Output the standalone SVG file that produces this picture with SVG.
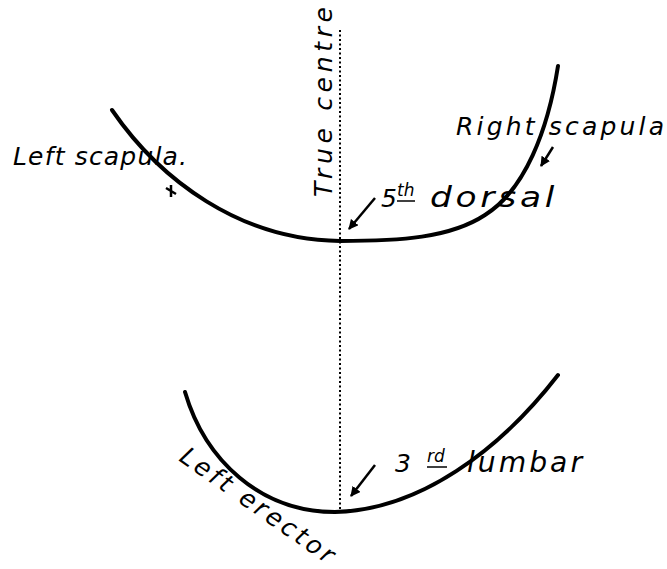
<svg xmlns="http://www.w3.org/2000/svg" width="667" height="569" viewBox="0 0 667 569">
<style>
.lbl{font-family:"DejaVu Sans","Liberation Sans",sans-serif;font-style:italic;font-size:25px;fill:#000}
.sup{font-size:17px}
.wide{font-size:28px;letter-spacing:3px}
.crv{fill:none;stroke:#000;stroke-width:4;stroke-linecap:round}
.arr{fill:none;stroke:#000;stroke-width:2.5}
.dot{fill:none;stroke:#000;stroke-width:2;stroke-dasharray:2 2.5}
</style>
<defs>
<marker id="ah" viewBox="0 0 10 10" refX="9" refY="5" markerWidth="4" markerHeight="4" orient="auto">
<path d="M0,0 L10,5 L0,10 z" fill="#000"/>
</marker>
</defs>
<rect width="667" height="569" fill="#fff"/>
<g id="connectors">
<path class="dot" d="M340,30 L340,510"/>
<path class="arr" marker-end="url(#ah)" d="M375,198 L349,229"/>
<path class="arr" marker-end="url(#ah)" d="M553,147 L541,166"/>
<path class="arr" marker-end="url(#ah)" d="M375,465 L351,496"/>
<path class="arr" d="M166,188 L176,194 M171,185 L171,197"/>
</g>
<g id="upper-curve">
<path class="crv" d="M112,110 C160,180 240,240 340,241 C400,241 450,238 485,215 C525,190 548,130 558,66"/>
</g>
<g id="lower-curve">
<path class="crv" d="M185,392 C205,460 260,512 335,512 C420,510 500,450 558,375"/>
</g>
<g id="true-centre">
<text class="lbl" transform="translate(332,197) rotate(-90)" font-size="26" textLength="190" lengthAdjust="spacing">True centre</text>
</g>
<g id="left-scapula">
<text class="lbl" x="13" y="165" textLength="174" lengthAdjust="spacing">Left scapula.</text>
</g>
<g id="right-scapula">
<text class="lbl" x="456" y="135" textLength="208" lengthAdjust="spacing">Right scapula</text>
</g>
<g id="fifth-dorsal">
<text class="lbl" x="381" y="207">5</text>
<text class="lbl sup" x="397" y="196">th</text>
<line x1="397" y1="201" x2="415" y2="201" stroke="#000" stroke-width="1.5"/>
<text class="lbl wide" x="430" y="207" textLength="128" lengthAdjust="spacingAndGlyphs">dorsal</text>
</g>
<g id="third-lumbar">
<text class="lbl" x="395" y="472">3</text>
<text class="lbl sup" x="427" y="462">rd</text>
<line x1="427" y1="467" x2="447" y2="467" stroke="#000" stroke-width="1.5"/>
<text class="lbl wide" x="467" y="472" textLength="118" lengthAdjust="spacingAndGlyphs">lumbar</text>
</g>
<g id="left-erector">
<text class="lbl" transform="translate(178,460) rotate(35)" font-size="27" textLength="182" lengthAdjust="spacing">Left erector</text>
</g>
</svg>
